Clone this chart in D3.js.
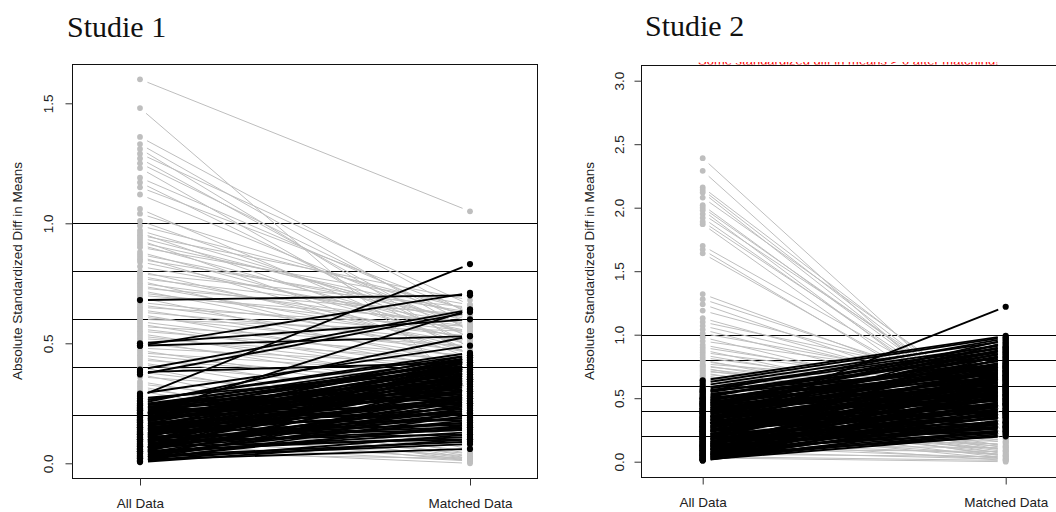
<!DOCTYPE html>
<html>
<head>
<meta charset="utf-8">
<script src="https://cdn.jsdelivr.net/npm/d3@7"></script>
<style>
  body { margin: 0; background: #fff; }
  svg { display: block; }
</style>
</head>
<body>
<svg id="chart" width="1056" height="512"></svg>
<script>
// ---- data -------------------------------------------------------------
const stages = [1, 2];
const stageLabels = ["All Data", "Matched Data"];
const thresholds = [0.2, 0.4, 0.6, 0.8, 1.0];
const study1Ticks = [0, 0.5, 1.0, 1.5];
const study2Ticks = [0, 0.5, 1.0, 1.5, 2.0, 2.5, 3.0];
const panelTitles = ["Studie 1", "Studie 2"];
const yAxisTitle = "Absolute Standardized Diff in Means";
const warningText = "Some standardized diff in means > 0 after matching!";

// Studie 1: covariates whose imbalance fell after matching (grey)
const s1DownBefore = [1.60,1.48,1.36,1.33,1.31,1.29,1.27,1.25,1.23,1.19,1.17,1.15,1.12,1.06,1.04,1.01,
  0.99,0.97,0.96,0.95,0.94,0.93,0.92,0.91,0.90,0.88,0.87,0.86,0.85,0.84,0.82,0.80,0.79,0.78,0.77,0.76,
  0.75,0.74,0.73,0.72,0.71,0.70,0.69,0.67,0.66,0.65,0.64,0.63,0.62,0.61,0.60,0.59,0.58,0.57,0.56,0.55,
  0.54,0.53,0.52,0.51,0.50,0.48,0.47,0.46,0.45,0.44,0.43,0.42,0.41,0.40,0.38,0.37,0.36,0.34,0.33,0.32,
  0.31,0.30,0.28,0.27,0.26,0.25,0.24,0.22,0.21,0.20,0.18,0.16,0.14,0.12,0.10,0.08,0.06,0.04];
const s1DownAfter = [1.05,0.30,0.62,0.55,0.48,0.66,0.52,0.58,0.45,0.60,0.50,0.63,0.56,0.47,0.61,0.53,
  0.64,0.57,0.49,0.68,0.59,0.44,0.62,0.54,0.66,0.51,0.60,0.46,0.63,0.55,0.58,0.48,0.65,0.52,0.61,0.43,
  0.57,0.50,0.62,0.46,0.55,0.59,0.41,0.53,0.48,0.57,0.44,0.51,0.39,0.47,0.55,0.42,0.36,0.49,0.40,0.45,
  0.33,0.38,0.43,0.30,0.35,0.41,0.27,0.37,0.32,0.24,0.34,0.20,0.29,0.15,0.22,0.10,0.26,0.12,0.18,0.06,
  0.14,0.08,0.04,0.11,0.02,0.07,0.03,0.05,0.01,0.09,0.02,0.04,0.01,0.03,0.02,0.01,0.00,0.02];

// Studie 1: covariates whose imbalance rose after matching (black)
const s1UpBefore = [0.68,0.28,0.49,0.50,0.49,0.39,0.37,0.38,0.20,0.29,0.26,0.24,0.25,
  0.01,0.02,0.03,0.05,0.04,0.06,0.08,0.07,0.09,0.10,
  0.11,0.12,0.13,0.14,0.15,0.16,0.17,0.18,0.19,0.21,
  0.22,0.23,0.02,0.03,0.05,0.06,0.08,0.10,0.12,0.13,
  0.15,0.17,0.18,0.20,0.21,0.22,0.24,0.01,0.04,0.07,
  0.09,0.11,0.14,0.16,0.19,0.23,0.025,0.045,0.065,0.085,
  0.105,0.125,0.145,0.165,0.185,0.205,0.225,0.015,0.035,0.055,
  0.075,0.095,0.115,0.135,0.155,0.175,0.195,0.215,0.235,0.245,
  0.005,0.03,0.06,0.09,0.12,0.15,0.18,0.21,0.27,0.02,
  0.05,0.08,0.11,0.14,0.17,0.20,0.23,0.04,0.07,0.10,
  0.13,0.16,0.19,0.22,0.01,0.06,0.12,0.18,0.24,0.26];
const s1UpAfter = [0.70,0.83,0.71,0.60,0.53,0.64,0.63,0.42,0.64,0.49,0.46,0.44,0.53,
  0.12,0.25,0.09,0.31,0.18,0.40,0.14,0.22,0.35,0.28,
  0.43,0.19,0.37,0.26,0.41,0.33,0.21,0.44,0.30,0.39,
  0.34,0.42,0.16,0.29,0.11,0.36,0.24,0.17,0.32,0.27,
  0.23,0.38,0.29,0.45,0.31,0.27,0.40,0.20,0.26,0.10,
  0.19,0.15,0.35,0.42,0.25,0.36,0.08,0.13,0.21,0.33,
  0.40,0.22,0.30,0.18,0.41,0.28,0.43,0.06,0.15,0.38,
  0.24,0.12,0.34,0.39,0.27,0.44,0.33,0.37,0.30,0.42,
  0.10,0.21,0.17,0.41,0.26,0.36,0.32,0.24,0.39,0.34,
  0.27,0.37,0.14,0.21,0.40,0.35,0.29,0.43,0.31,0.44,
  0.16,0.25,0.38,0.41,0.28,0.23,0.39,0.34,0.35,0.45];

// Studie 2: covariates whose imbalance fell after matching (grey)
const s2DownBefore = [2.39,2.29,2.16,2.14,2.12,2.08,2.02,2.00,1.98,1.95,1.92,1.89,1.87,1.70,1.67,1.64,
  1.32,1.28,1.24,1.19,1.13,1.10,1.07,1.04,1.01,0.98,0.95,0.92,0.90,0.88,0.86,0.84,0.82,0.80,0.79,0.77,
  0.76,0.75,0.74,0.73,0.72,0.71,0.70,0.69,0.68,0.67,0.66,0.65,0.64,0.62,0.60,0.58,0.56,0.54,0.52,0.50,
  0.47,0.45,0.42,0.40,0.37,0.35,0.32,0.30,0.27,0.25,0.22,0.20,0.17,0.15,0.12,0.10,0.08,0.06,0.04,0.03,
  0.33,0.28,0.44,0.38,0.21,0.13,0.49,0.36];
const s2DownAfter = [0.22,0.15,0.35,0.30,0.25,0.40,0.28,0.33,0.20,0.38,0.26,0.31,0.18,0.36,0.24,0.29,
  0.45,0.50,0.42,0.55,0.48,0.60,0.52,0.44,0.58,0.40,0.62,0.47,0.53,0.37,0.56,0.43,0.50,0.34,0.46,0.59,
  0.39,0.52,0.30,0.48,0.41,0.55,0.33,0.45,0.27,0.50,0.38,0.22,0.42,0.19,0.35,0.16,0.28,0.12,0.20,0.09,
  0.15,0.06,0.11,0.04,0.08,0.13,0.03,0.07,0.10,0.02,0.05,0.14,0.01,0.06,0.03,0.08,0.02,0.04,0.01,0.00,
  0.17,0.12,0.18,0.09,0.16,0.11,0.19,0.05];

// Studie 2: covariates whose imbalance rose after matching (black)
const s2UpBefore = [0.28,0.64,
  0.62,0.60,0.58,0.57,0.55,0.54,0.52,0.50,0.49,0.47,
  0.46,0.45,0.44,0.42,0.41,0.40,0.39,0.38,0.36,0.35,
  0.34,0.33,0.32,0.31,0.30,0.29,0.27,0.26,0.25,0.24,
  0.23,0.22,0.21,0.20,0.19,0.18,0.17,0.16,0.15,0.14,
  0.13,0.12,0.11,0.10,0.09,0.08,0.07,0.06,0.05,0.04,
  0.03,0.02,0.01,0.02,0.03,0.05,0.06,0.08,0.09,0.11,
  0.12,0.14,0.15,0.17,0.18,0.20,0.21,0.23,0.24,0.26,
  0.27,0.28,0.30,0.31,0.33,0.34,0.36,0.37,0.39,0.40,
  0.42,0.43,0.45,0.46,0.48,0.50,0.51,0.53,0.55,0.56,
  0.04,0.07,0.10,0.13,0.16,0.19,0.22,0.25,0.28,0.32,
  0.35,0.38,0.41,0.44,0.47,0.015,0.035,0.055,0.075,0.095,
  0.115,0.135,0.155,0.175,0.195,0.215,0.235,0.255,0.275,0.295,
  0.315,0.335,0.355,0.375,0.395,0.415,0.435,0.455,0.475,0.495,
  0.02,0.05,0.09,0.13,0.18,0.24,0.29,0.01,0.06,0.11];
const s2UpAfter = [1.22,0.99,
  0.98,0.95,0.92,0.90,0.97,0.88,0.85,0.93,0.80,0.87,
  0.78,0.91,0.83,0.75,0.96,0.70,0.86,0.73,0.81,0.68,
  0.89,0.65,0.77,0.94,0.60,0.84,0.72,0.63,0.79,0.58,
  0.66,0.82,0.55,0.74,0.61,0.69,0.52,0.76,0.57,0.64,
  0.50,0.71,0.47,0.59,0.44,0.67,0.40,0.53,0.36,0.62,
  0.33,0.48,0.30,0.24,0.56,0.42,0.28,0.51,0.35,0.46,
  0.39,0.54,0.31,0.45,0.70,0.37,0.60,0.49,0.43,0.66,
  0.53,0.72,0.46,0.63,0.57,0.78,0.50,0.68,0.61,0.74,
  0.65,0.84,0.59,0.71,0.77,0.69,0.90,0.75,0.82,0.73,
  0.22,0.27,0.32,0.26,0.38,0.29,0.34,0.41,0.36,0.44,
  0.52,0.48,0.55,0.62,0.67,0.21,0.25,0.20,0.38,0.23,
  0.28,0.42,0.24,0.35,0.47,0.31,0.56,0.40,0.45,0.58,
  0.49,0.64,0.54,0.86,0.66,0.58,0.76,0.80,0.88,0.71,
  0.40,0.31,0.60,0.52,0.27,0.74,0.39,0.37,0.45,0.68];

// ---- drawing ------------------------------------------------------------
const svg = d3.select("#chart");
const sans = "'Liberation Sans', Arial, sans-serif";
const serif = "'Liberation Serif', 'Times New Roman', serif";
const GREY = "#bebebe";

const zip = (a, b) => a.map((v, i) => [v, b[i]]);

function drawPanel(cfg, idx) {
  const g = svg.append("g");
  const x = d3.scaleLinear().domain(stages).range(cfg.xRange);
  const y = d3.scaleLinear().domain([0, cfg.ticks[cfg.ticks.length - 1]]).range(cfg.yRange);
  const { left, right, top, bottom } = cfg.box;

  const clipId = "clip" + idx;
  svg.append("clipPath").attr("id", clipId)
    .append("rect").attr("x", left).attr("y", top)
    .attr("width", right - left).attr("height", bottom - top);

  const plot = g.append("g").attr("clip-path", `url(#${clipId})`);

  // reference lines
  plot.selectAll("line.ref").data(thresholds).join("line")
    .attr("x1", left).attr("x2", right)
    .attr("y1", d => Math.round(y(d)) + 0.5).attr("y2", d => Math.round(y(d)) + 0.5)
    .attr("stroke", "#000").attr("stroke-width", 1);

  // segments stop short of each point, like lines drawn with type = "b"
  const gap = 8;
  function seg(d) {
    const x1 = x(1), y1 = y(d[0]), x2 = x(2), y2 = y(d[1]);
    const dx = x2 - x1, dy = y2 - y1, len = Math.hypot(dx, dy);
    const ux = dx / len, uy = dy / len;
    return [x1 + ux * gap, y1 + uy * gap, x2 - ux * gap, y2 - uy * gap];
  }

  const down = zip(cfg.downBefore, cfg.downAfter);
  const up = zip(cfg.upBefore, cfg.upAfter);

  plot.append("g").selectAll("line").data(down).join("line")
    .each(function(d) {
      const s = seg(d);
      d3.select(this).attr("x1", s[0]).attr("y1", s[1]).attr("x2", s[2]).attr("y2", s[3]);
    })
    .attr("stroke", GREY).attr("stroke-width", 1);

  plot.append("g").selectAll("line").data(up).join("line")
    .each(function(d) {
      const s = seg(d);
      d3.select(this).attr("x1", s[0]).attr("y1", s[1]).attr("x2", s[2]).attr("y2", s[3]);
    })
    .attr("stroke", "#000").attr("stroke-width", 1.9);

  const pointsOf = pairs => pairs.flatMap(d => [[1, d[0]], [2, d[1]]]);
  plot.append("g").selectAll("circle").data(pointsOf(down)).join("circle")
    .attr("cx", d => x(d[0])).attr("cy", d => y(d[1])).attr("r", 2.9).attr("fill", GREY);
  plot.append("g").selectAll("circle").data(pointsOf(up)).join("circle")
    .attr("cx", d => x(d[0])).attr("cy", d => y(d[1])).attr("r", 3.1).attr("fill", "#000");

  // frame
  g.append("rect")
    .attr("x", left + 0.5).attr("y", top + 0.5)
    .attr("width", right - left).attr("height", bottom - top)
    .attr("fill", "none").attr("stroke", "#111").attr("stroke-width", 1);

  // y axis
  const yAxis = g.append("g").attr("transform", `translate(${left + 0.5},0)`)
    .call(d3.axisLeft(y).tickValues(cfg.ticks).tickSize(7).tickFormat(d3.format(".1f")));
  yAxis.select(".domain").remove();
  yAxis.selectAll(".tick line").attr("stroke", "#333");
  yAxis.selectAll(".tick text")
    .attr("transform", "rotate(-90)")
    .attr("x", 0).attr("y", -cfg.tickLabelOffset).attr("dy", "0.35em")
    .attr("text-anchor", "middle")
    .style("font-family", sans).style("font-size", "13.5px").attr("fill", "#222");

  // x axis
  const xAxis = g.append("g").attr("transform", `translate(0,${bottom + 0.5})`)
    .call(d3.axisBottom(x).tickValues(stages).tickSize(7).tickFormat((d, i) => stageLabels[i]));
  xAxis.select(".domain").remove();
  xAxis.selectAll(".tick line").attr("stroke", "#333");
  xAxis.selectAll(".tick text")
    .attr("y", 20).attr("dy", "0.71em")
    .style("font-family", sans).style("font-size", "13.5px").attr("fill", "#222");

  // axis title
  g.append("text")
    .attr("transform", `translate(${left - cfg.titleOffset},${(top + bottom) / 2}) rotate(-90)`)
    .attr("text-anchor", "middle").attr("dy", "0.35em")
    .style("font-family", sans).style("font-size", "13.5px").attr("fill", "#222")
    .text(yAxisTitle);

  // panel heading
  g.append("text")
    .attr("x", cfg.headX).attr("y", cfg.headY)
    .style("font-family", serif).style("font-size", "30px").attr("fill", "#111")
    .text(panelTitles[idx]);
}

const panels = [
  {
    box: { left: 72, right: 537, top: 64, bottom: 478 },
    xRange: [140, 470], yRange: [463.3, 103.3], ticks: study1Ticks,
    downBefore: s1DownBefore, downAfter: s1DownAfter,
    upBefore: s1UpBefore, upAfter: s1UpAfter,
    tickLabelOffset: 24, titleOffset: 55, headX: 67, headY: 37
  },
  {
    box: { left: 641, right: 1067, top: 65, bottom: 477 },
    xRange: [702.7, 1005.7], yRange: [461.7, 80.7], ticks: study2Ticks,
    downBefore: s2DownBefore, downAfter: s2DownAfter,
    upBefore: s2UpBefore, upAfter: s2UpAfter,
    tickLabelOffset: 22, titleOffset: 52, headX: 645, headY: 36
  }
];

panels.forEach(drawPanel);

// plot heading of the second panel; only its lower edge shows above the frame
svg.append("clipPath").attr("id", "warnClip")
  .append("rect").attr("x", 600).attr("y", 62).attr("width", 456).attr("height", 2.5);
svg.append("text")
  .attr("clip-path", "url(#warnClip)")
  .attr("x", 698).attr("y", 64.5)
  .style("font-family", sans).style("font-size", "13px").attr("fill", "#ff0000")
  .text(warningText);
</script>
</body>
</html>
